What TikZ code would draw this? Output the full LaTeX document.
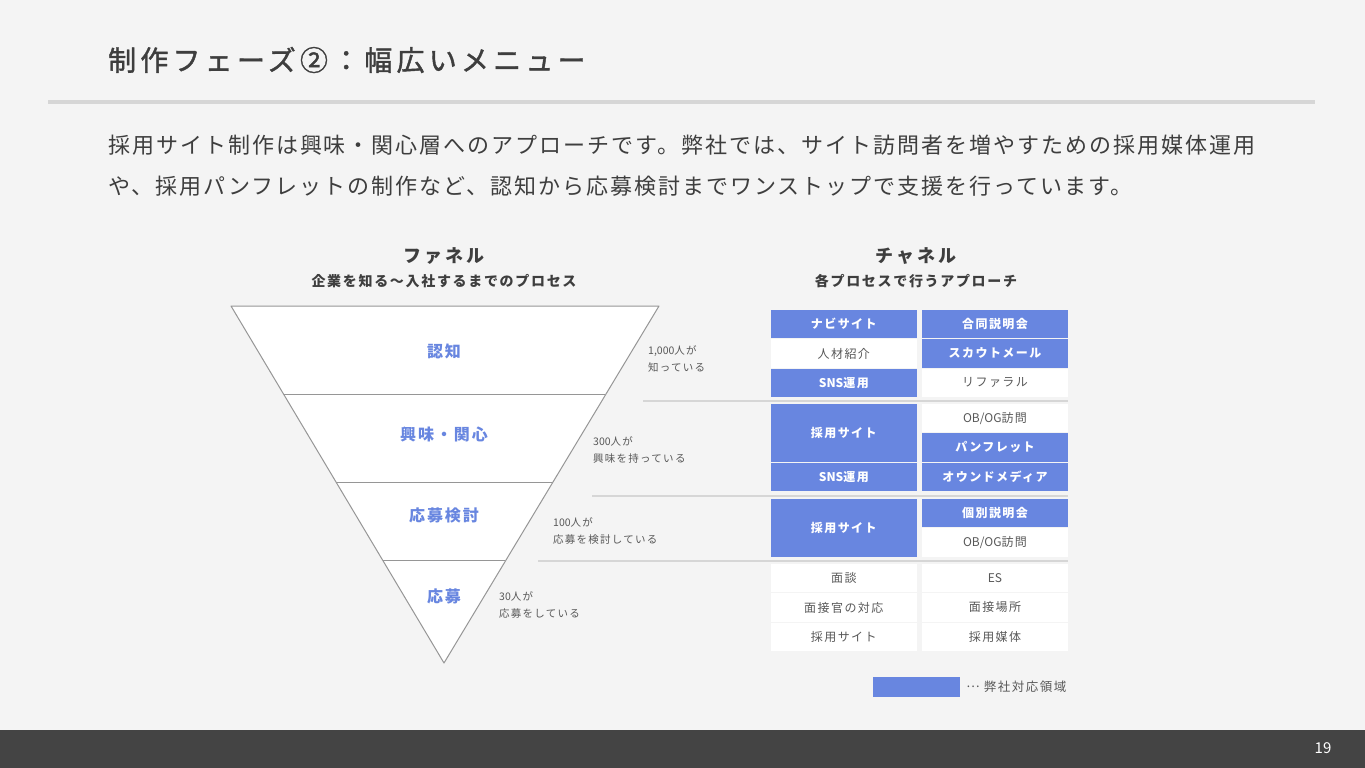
\documentclass[tikz,border=0pt]{standalone}
\usepackage{tikz}
\usepackage{fontspec}
\usetikzlibrary{calc}
\setmainfont{Noto Sans CJK JP}
\newfontfamily\titlefont[LetterSpace=15,FakeBold=1.4]{Noto Sans CJK JP}
\newfontfamily\bodyfont[LetterSpace=9]{Noto Sans CJK JP}
\newfontfamily\headfont[LetterSpace=18]{Noto Sans CJK JP}
\newfontfamily\cellfont[LetterSpace=12]{Noto Sans CJK JP}
\newfontfamily\latinfont{Noto Sans CJK JP}
\newcommand{\MYPITCH}{29.3}
\newcommand{\lat}[1]{{\latinfont#1}}
\definecolor{myblue}{RGB}{104,134,224}
\definecolor{mytext}{RGB}{62,62,62}
\definecolor{mygray}{RGB}{88,88,88}
\definecolor{myline}{RGB}{214,214,214}
\definecolor{myedge}{RGB}{150,150,150}
\definecolor{mybg}{RGB}{244,244,244}
\definecolor{myfoot}{RGB}{68,68,68}

\begin{document}
\begin{tikzpicture}[x=1pt,y=-1pt,
    ours/.style={fill=myblue,text=white,inner sep=0pt,font=\cellfont\bfseries\fontsize{12}{14}\selectfont},
    other/.style={fill=white,text=mygray,inner sep=0pt,font=\cellfont\fontsize{12}{14}\selectfont},
    stage/.style={text=myblue,inner sep=0pt,font=\cellfont\bfseries\fontsize{16}{18}\selectfont},
    count/.style={anchor=west,align=left,text=mygray,inner sep=0pt,font=\cellfont\fontsize{10.5}{16.5}\selectfont},
    sep/.style={myline,line width=2pt}]

    \fill[mybg] (0,0) rectangle (1365,768);
    \useasboundingbox (0,0) rectangle (1365,768);

    % title and text
    \node[anchor=west,inner sep=0pt,text=mytext,font=\titlefont\fontsize{28}{32}\selectfont] (title) at (108,60) {制作フェーズ②：幅広いメニュー};
    \draw[myline,line width=4pt] (48,102) -- (1315,102);
    \node[anchor=west,inner sep=0pt,text=mytext,font=\bodyfont\fontsize{22}{26}\selectfont] (line1) at (108,145) {採用サイト制作は興味・関心層へのアプローチです。弊社では、サイト訪問者を増やすための採用媒体運用};
    \node[anchor=west,inner sep=0pt,text=mytext,font=\bodyfont\fontsize{22}{26}\selectfont] (line2) at (108,186) {や、採用パンフレットの制作など、認知から応募検討までワンストップで支援を行っています。};

    % headings
    \node[text=mytext,font=\headfont\bfseries\fontsize{18}{20}\selectfont] (funnelhead) at (444,256) {ファネル};
    \node[text=mytext,font=\cellfont\bfseries\fontsize{14}{16}\selectfont] (funnelsub) at (444,281) {企業を知る～入社するまでのプロセス};
    \node[text=mytext,font=\headfont\bfseries\fontsize{18}{20}\selectfont] (chanhead) at (916,256) {チャネル};
    \node[text=mytext,font=\cellfont\bfseries\fontsize{14}{16}\selectfont] (chansub) at (916,281) {各プロセスで行うアプローチ};

    % funnel
    \coordinate (ftl) at (231,306);
    \coordinate (ftr) at (659,306);
    \coordinate (fbot) at (444,663);
    \draw[myedge,fill=white,line width=1pt,line join=round] (ftl) -- (ftr) -- (fbot) -- cycle;
    \foreach \f [count=\i] in {0.249,0.493,0.714}{% one cut per level
      \draw[myedge,line width=1pt] ($(ftl)!\f!(fbot)$) coordinate (fl\i) -- ($(ftr)!\f!(fbot)$) coordinate (fr\i);
    }
    \foreach \t/\y [count=\i] in {認知/351,興味・関心/434,応募検討/515,応募/596}{%
      \node[stage] (stage\i) at (444,\y) {\t};
    }
    \foreach \t/\x/\y [count=\i] in {{\lat{1,000}人が\\知っている}/648/359,{\lat{300}人が\\興味を持っている}/593/450,{\lat{100}人が\\応募を検討している}/553/531,{\lat{30}人が\\応募をしている}/499/605}{%
      \node[count] (count\i) at (\x,\y) {\t};
    }

    % channel cells: centre x / group top / row / rows / text / style
    \foreach \cx/\gy/\k/\n/\t/\s [count=\i] in {
        843.8/310/0/1/ナビサイト/ours, 843.8/310/1/1/人材紹介/other, 843.8/310/2/1/{\lat{SNS}運用}/ours,
        995/310/0/1/合同説明会/ours, 995/310/1/1/スカウトメール/ours, 995/310/2/1/リファラル/other,
        843.8/404/0/2/採用サイト/ours, 843.8/404/2/1/{\lat{SNS}運用}/ours,
        995/404/0/1/{\lat{OB/OG}訪問}/other, 995/404/1/1/パンフレット/ours, 995/404/2/1/オウンドメディア/ours,
        843.8/499/0/2/採用サイト/ours,
        995/499/0/1/個別説明会/ours, 995/499/1/1/{\lat{OB/OG}訪問}/other,
        843.8/564/0/1/面談/other, 995/564/0/1/{\lat{ES}}/other,
        843.8/564/1/1/面接官の対応/other, 995/564/1/1/面接場所/other,
        843.8/564/2/1/採用サイト/other, 995/564/2/1/採用媒体/other}{%
      \node[\s,minimum width=145.5,minimum height=\n*\MYPITCH-1] (cell\i) at (\cx,{\gy+\k*\MYPITCH+(\n*\MYPITCH-1)/2}) {\t};
    }
    \foreach \x/\y [count=\i] in {643/401,592/496,538/561}{%
      \coordinate (sep\i) at (\x,\y);
      \draw[sep] (sep\i) -- (sep\i -| cell4.east);
    }

    % legend
    \node[ours,minimum width=87,minimum height=20] (legend) at (916.5,687) {};
    \node[anchor=west,inner sep=0pt,text=mygray,font=\cellfont\fontsize{12.5}{14}\selectfont] (legendtext) at ([xshift=6]legend.east) {\raisebox{0.3em}{\lat{…}} 弊社対応領域};

    % footer
    \fill[myfoot] (0,730) rectangle (1365,768);
    \node[text=white,font=\fontsize{15}{17}\selectfont] (page) at (1323,748) {19};

\end{tikzpicture}
\end{document}
